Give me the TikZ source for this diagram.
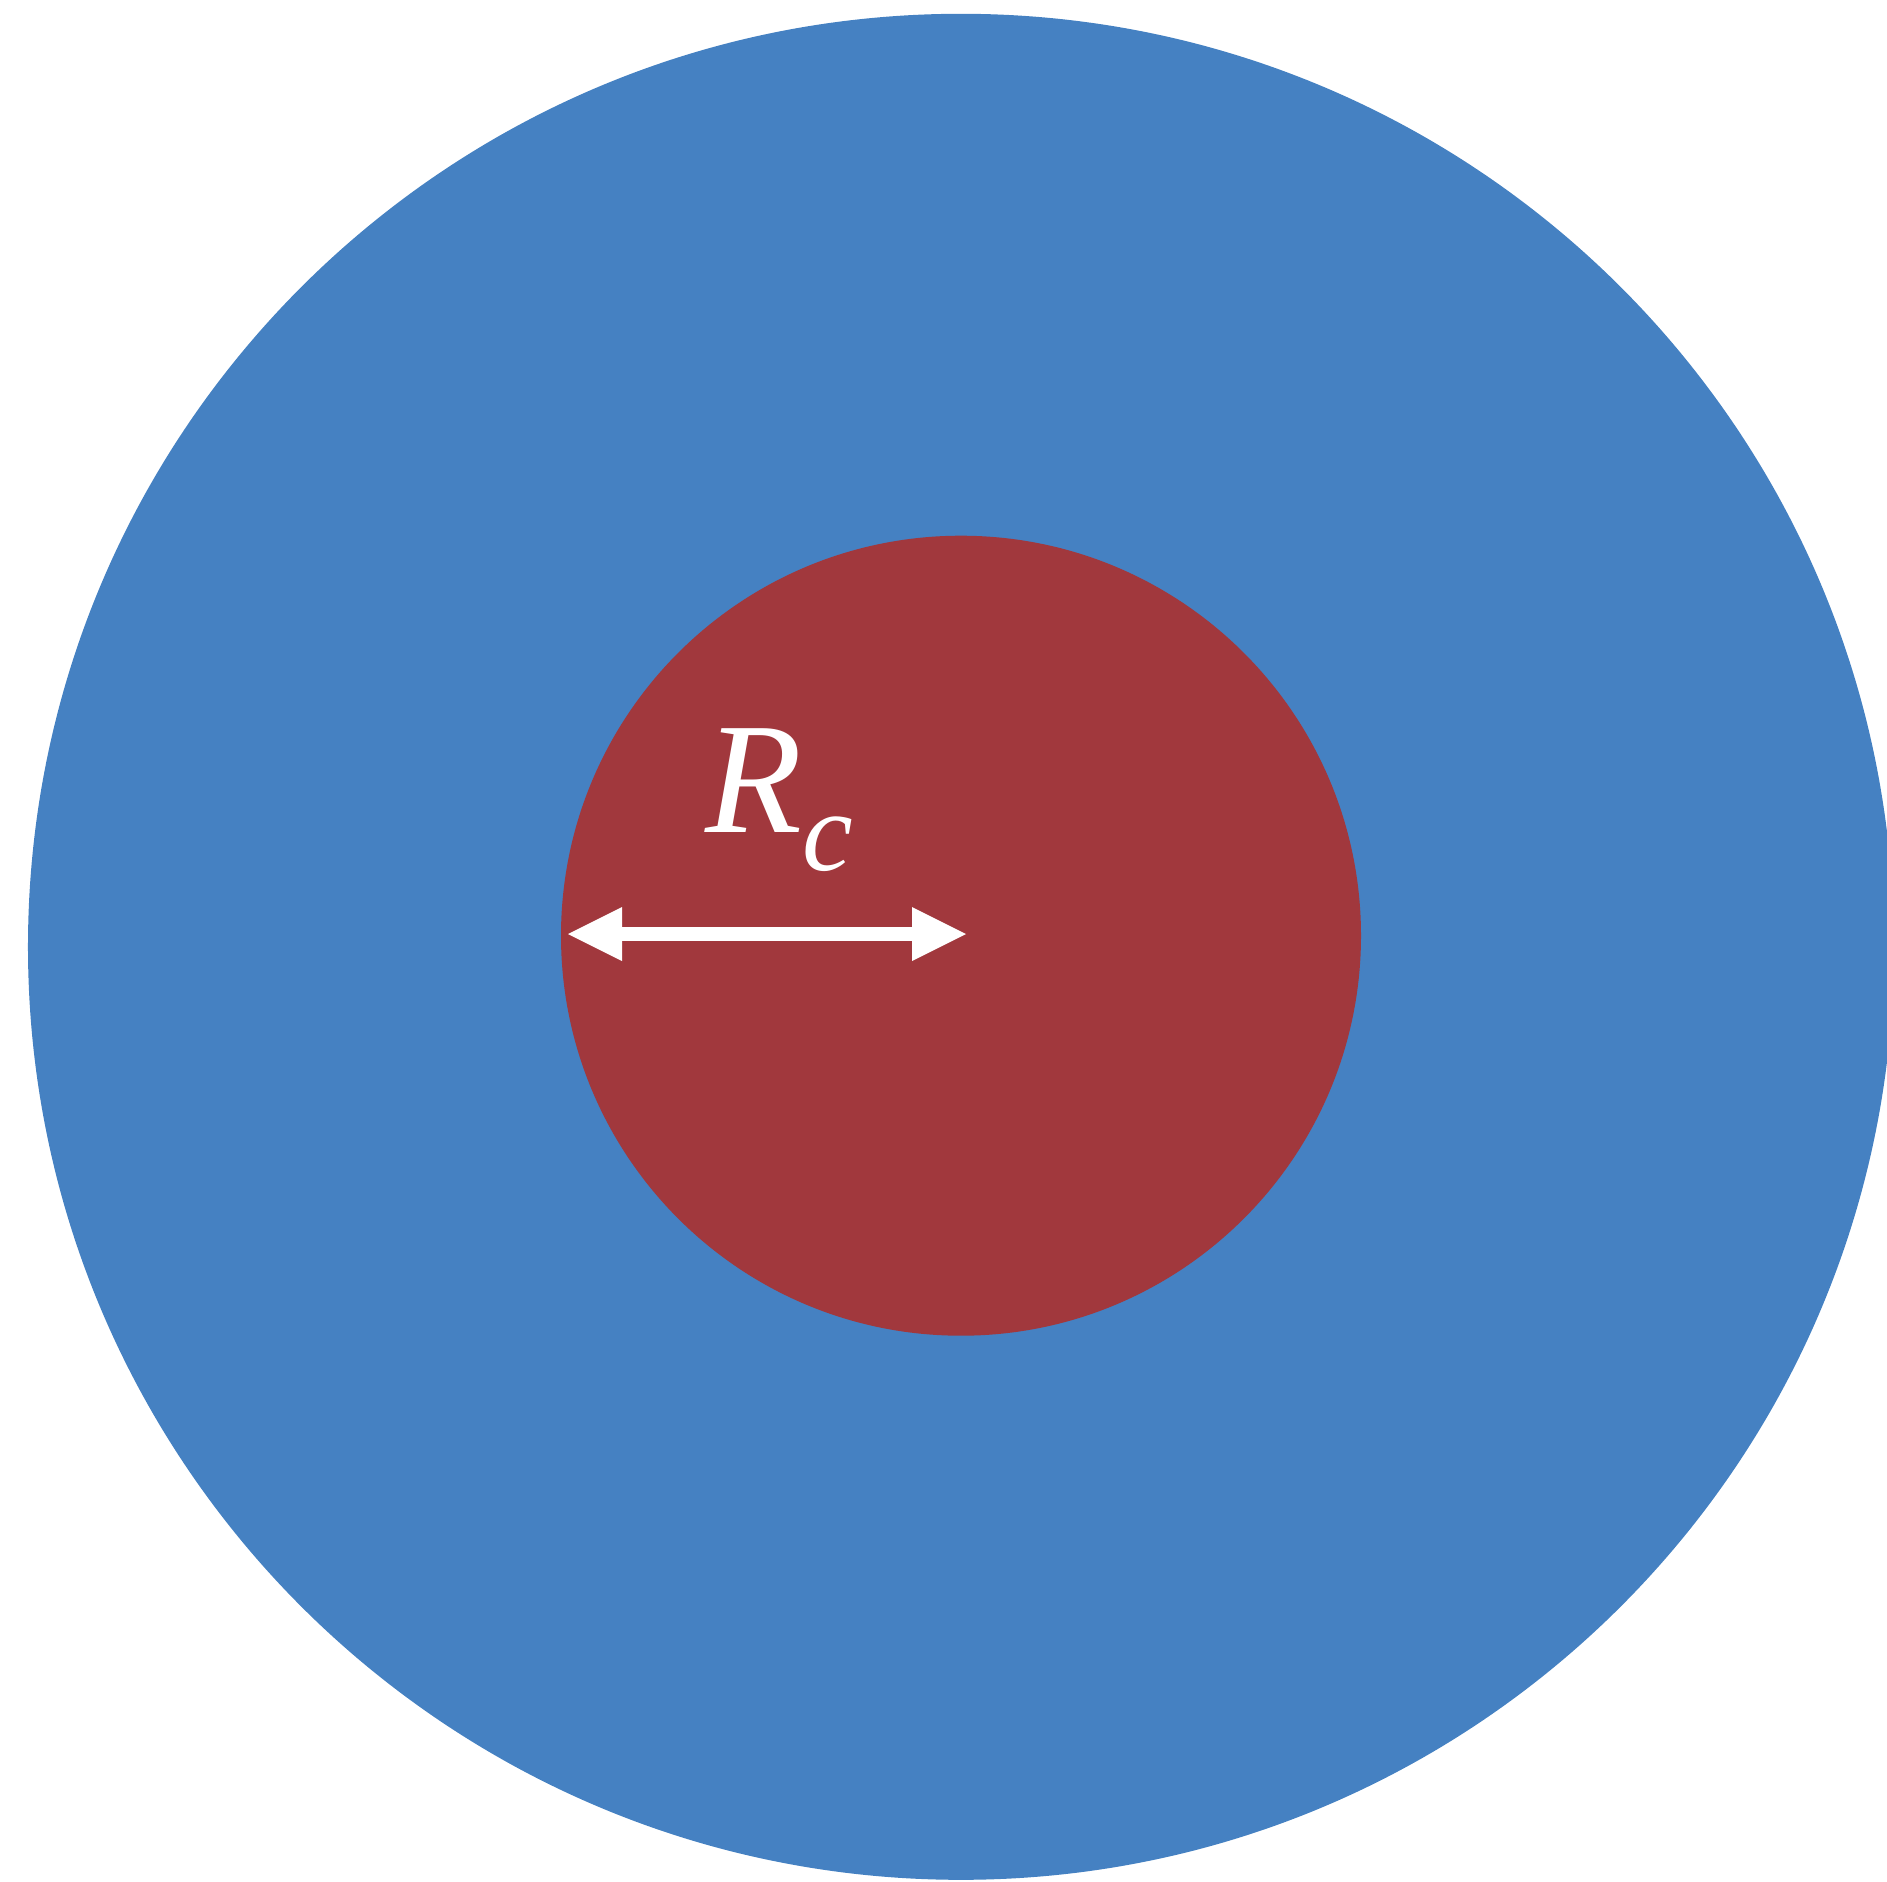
\documentclass[tikz,border=0pt]{standalone}
\usepackage{fontspec}
\setmainfont{Liberation Serif}
\usetikzlibrary{arrows.meta}
\definecolor{outerblue}{RGB}{69,129,194}
\definecolor{corered}{RGB}{161,56,61}
\begin{document}
\begin{tikzpicture}[x=1bp,y=-1bp,
  radiusarrow/.style={draw=white, line width=13.7bp,
    {Triangle[length=54bp,width=54bp,line width=0pt]}-{Triangle[length=54bp,width=54bp,line width=0pt]}},
  labeltext/.style={text=white, inner sep=0pt, anchor=base west,
    font=\fontsize{158.6bp}{160bp}\selectfont\itshape}]
\useasboundingbox (0,0) rectangle (1887,1882);
\clip (0,0) rectangle (1887,1882);
\fill[outerblue] (961,946.8) circle [radius=933bp];
\fill[corered] (961,935.7) circle [radius=400bp];
\coordinate (left) at (568,934);
\coordinate (right) at (966,934);
\draw[radiusarrow] (left) -- (right);
\node[labeltext] (rc) at (705,832) {R\raisebox{-38bp}{\fontsize{114bp}{116bp}\selectfont c}};
\end{tikzpicture}
\end{document}
